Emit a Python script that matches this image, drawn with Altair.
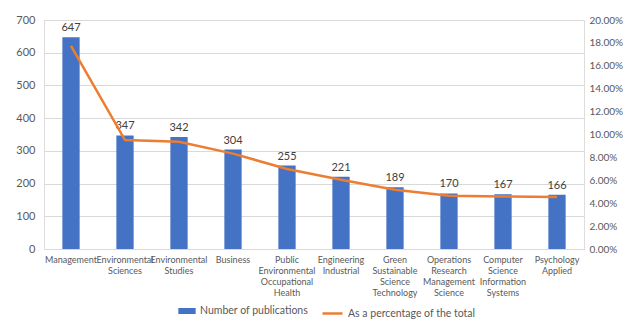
import altair as alt
import pandas as pd

categories = ["Management", "Environmental Sciences", "Environmental Studies", "Business",
              "Public Environmental Occupational Health", "Engineering Industrial",
              "Green Sustainable Science Technology", "Operations Research Management Science",
              "Computer Science Information Systems", "Psychology Applied"]
publications = [647, 347, 342, 304, 255, 221, 189, 170, 167, 166]
percentages = [0.1773, 0.0951, 0.0937, 0.0833, 0.0699, 0.0605, 0.0518, 0.0466, 0.0458, 0.0455]
left_ticks = [0, 100, 200, 300, 400, 500, 600, 700]
right_ticks = [0.0, 0.02, 0.04, 0.06, 0.08, 0.10, 0.12, 0.14, 0.16, 0.18, 0.20]

df = pd.DataFrame({
    "cat": categories,
    "pubs": publications,
    "pct": percentages,
    "s1": "Number of publications",
    "s2": "As a percentage of the total",
})

FONT = "Lato"
GREY = "#595959"

x = alt.X("cat:N", sort=categories, title=None,
          scale=alt.Scale(paddingInner=0.68, paddingOuter=0.34),
          axis=alt.Axis(labelExpr="split(datum.label, ' ')", labelAngle=0, labelFontSize=9,
                        labelLineHeight=11, labelPadding=6, labelColor=GREY, labelFont=FONT,
                        domain=False, ticks=False, labelBaseline="top", labelOverlap=False))

yl = alt.Y("pubs:Q", title=None, scale=alt.Scale(domain=[0, 700], nice=False),
           axis=alt.Axis(values=left_ticks, domain=False, ticks=False,
                         labelPadding=9, labelFontSize=11, labelColor=GREY, labelFont=FONT,
                         grid=True, gridColor="#D9D9D9", labelOverlap=False))

bars = alt.Chart(df).mark_bar().encode(
    x=x,
    y=yl,
    fill=alt.Fill("s1:N", title=None,
                  scale=alt.Scale(range=["#4472C4"]),
                  legend=alt.Legend(orient="none", legendX=134, legendY=282,
                                    symbolType="M-1,-0.35H1V0.35H-1Z", symbolSize=300,
                                    labelFontSize=10.5, labelColor=GREY, labelFont=FONT,
                                    symbolStrokeWidth=0)),
)

texts = alt.Chart(df).mark_text(baseline="bottom", dy=-4, fontSize=11, font=FONT, color="#404040").encode(
    x=x,
    y=yl,
    text=alt.Text("pubs:Q"),
)

left = alt.layer(bars, texts)

line = alt.Chart(df).mark_line(strokeWidth=2.5).encode(
    x=x,
    y=alt.Y("pct:Q", title=None, scale=alt.Scale(domain=[0, 0.2], nice=False),
            axis=alt.Axis(orient="right", values=right_ticks, format=".2%",
                          domain=False, ticks=False, grid=False, labelPadding=5,
                          labelFontSize=10, labelColor=GREY, labelFont=FONT, labelOverlap=False)),
    stroke=alt.Stroke("s2:N", title=None,
                      scale=alt.Scale(range=["#ED7D31"]),
                      legend=alt.Legend(orient="none", legendX=277, legendY=282,
                                        symbolType="stroke", symbolSize=400, symbolStrokeWidth=2.5,
                                        labelFontSize=10.5, labelColor=GREY, labelFont=FONT)),
)

chart = alt.layer(left, line).resolve_scale(y="independent").properties(
    width=540, height=229,
    autosize=alt.AutoSizeParams(type="none"),
    padding={"left": 44, "top": 20, "right": 41, "bottom": 71},
).configure_view(stroke=None).configure(background="white")

chart.save("out.html", embed_options={"renderer": "svg", "actions": False})
